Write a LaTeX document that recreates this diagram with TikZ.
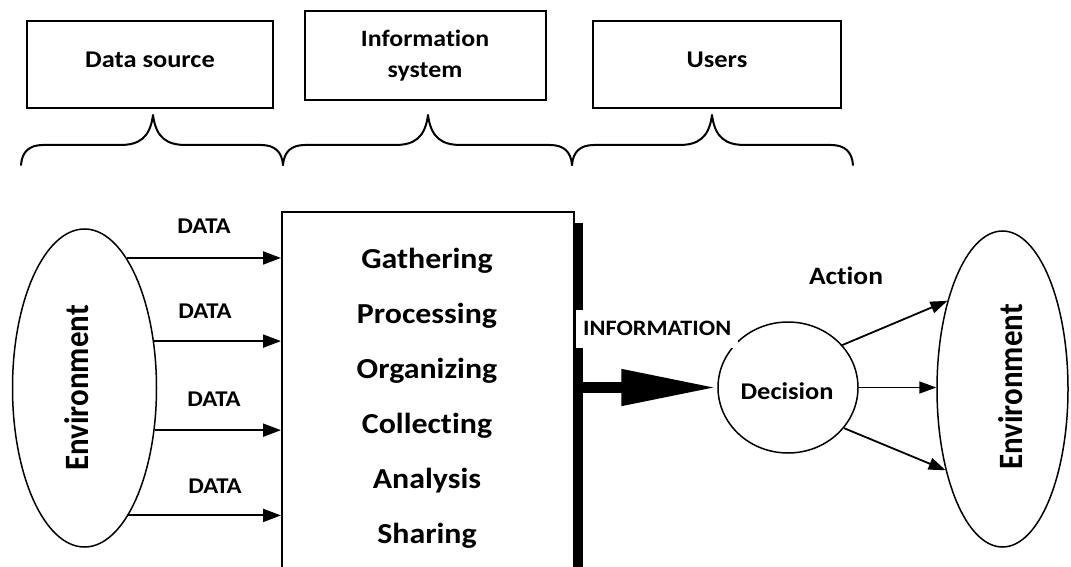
\documentclass[tikz,border=0pt]{standalone}
\usepackage{fontspec}
\usepackage{graphicx}
\setmainfont{Carlito}[FakeStretch=1.1, Ligatures=NoCommon]
\newfontfamily\plainfont{Carlito}[Ligatures=NoCommon]
\usetikzlibrary{arrows.meta,shapes.geometric}

\tikzset{
  txt/.style={font=\bfseries\fontsize{#1}{#1}\selectfont, inner sep=0pt},
  topbox/.style={draw, line width=2pt, inner sep=0pt, text height=.64em, text depth=0pt,
                 font=\bfseries\fontsize{24}{28}\selectfont},
  bracestyle/.style={line width=2pt, line cap=round, line join=round},
  envshape/.style={draw, ellipse, line width=1.5pt, inner sep=0pt},
  dataarrow/.style={line width=2pt, -{Triangle[length=18pt,width=13pt]}},
  actarrow/.style={line width=1.8pt, -{Triangle[length=17pt,width=12pt]}},
}

% one curly span: left end, peak, right end (x positions)
\newcommand{\curlyspan}[3]{%
  \draw[bracestyle] (#1,165) .. controls (#1+1,152) and (#1+8,145) .. (#1+22,145)
    -- (#2-33,145) .. controls (#2-14,145) and (#2-3,138) .. (#2,115)
    .. controls (#2+3,138) and (#2+14,145) .. (#2+33,145)
    -- (#3-22,145) .. controls (#3-8,145) and (#3-1,152) .. (#3,165);}

\begin{document}
\begin{tikzpicture}[x=1pt,y=-1pt]
\useasboundingbox (0,0) rectangle (1071,567);
\clip (0,0) rectangle (1071,567);

% roles along the top
\node[topbox, minimum width=246pt, minimum height=87pt] (src) at (150,64.75) {Data source};
\node[topbox, minimum width=241pt, minimum height=89pt] (isys) at (425.5,55.5) {};
\node[txt=23.5, anchor=base] (isys1) at (425,47) {Information};
\node[txt=23.5, anchor=base] (isys2) at (425,78) {system};
\node[topbox, minimum width=248pt, minimum height=87pt] (usr) at (717,64.75) {Users};

% braces under the roles
\curlyspan{21}{153}{283}
\curlyspan{283}{428}{572}
\curlyspan{572}{712}{853}

% source environment
\node[envshape, minimum width=144pt, minimum height=318pt] (envL) at (84.5,388) {};
\node[inner sep=0pt] (envLt) at (76.5,388)
  {\rotatebox{90}{\scalebox{1}[1.1]{\plainfont\bfseries\fontsize{31}{31}\selectfont Environment}}};

% information system box and its output bar
\node[draw, line width=2pt, inner sep=0pt, minimum width=292pt, minimum height=380pt,
      anchor=north west] (proc) at (281,211) {};
\node[fill=black, inner sep=0pt, minimum width=10pt, minimum height=360pt,
      anchor=north west] (bar) at (573,223) {};

\node[txt=29, anchor=base] (s1) at (427,268) {Gathering};
\node[txt=29, anchor=base] (s2) at (427,323) {Processing};
\node[txt=29, anchor=base] (s3) at (427,378) {Organizing};
\node[txt=29, anchor=base] (s4) at (427,433) {Collecting};
\node[txt=29, anchor=base] (s5) at (427,488) {Analysis};
\node[txt=29, anchor=base] (s6) at (427,543) {Sharing};

% data flows
\draw[dataarrow] (envL.72.7) -- (envL.72.7 -| proc.west);
\draw[dataarrow] (envL.34.3) -- (envL.34.3 -| proc.west);
\draw[dataarrow] (envL.-31.2) -- (envL.-31.2 -| proc.west);
\draw[dataarrow] (envL.-71.9) -- (envL.-71.9 -| proc.west);
\node[txt=22.5, anchor=base] (d1) at (204,233.3) {DATA};
\node[txt=22.5, anchor=base] (d2) at (205,318) {DATA};
\node[txt=22.5, anchor=base] (d3) at (214,406.7) {DATA};
\node[txt=22.5, anchor=base] (d4) at (215,493) {DATA};

% decision
\node[envshape, minimum width=140pt, minimum height=131pt] (dec) at (788,387.5) {};
\node[txt=24, anchor=base] (dect) at (787,399) {Decision};

% information flow
\draw[line width=11pt, -{Triangle[length=96pt,width=34pt]}] (bar.east |- dec.west) -- (dec.west);
\node[fill=white, font=\bfseries\fontsize{22}{22}\selectfont, inner xsep=7pt, inner ysep=0pt,
      text height=25pt, text depth=13pt, anchor=base west] (info) at (576,335) {INFORMATION};

% target environment and actions
\node[envshape, minimum width=131pt, minimum height=316pt] (envR) at (1002.5,389) {};
\node[inner sep=0pt] (envRt) at (1010.5,387)
  {\rotatebox{90}{\scalebox{1}[1.1]{\plainfont\bfseries\fontsize{31}{31}\selectfont Environment}}};
\draw[actarrow] (dec.38.5) -- (envR.122.6);
\draw[actarrow] (dec.east) -- (dec.east -| envR.west);
\draw[actarrow] (dec.-36.7) -- (envR.235.4);
\node[txt=25, anchor=base] (act) at (846,284) {Action};

\end{tikzpicture}
\end{document}
